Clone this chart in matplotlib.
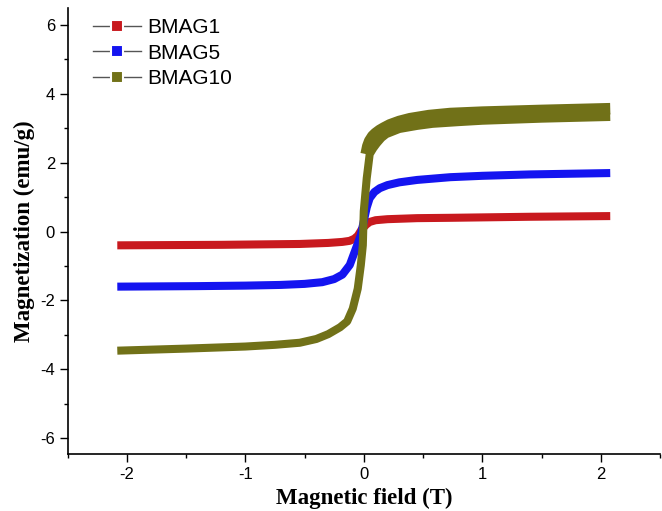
import matplotlib.pyplot as plt
from matplotlib.lines import Line2D
from matplotlib.ticker import MultipleLocator

plt.rcParams["axes.unicode_minus"] = False

RED = "#C8191E"
BLUE = "#1414F0"
OLIVE = "#717118"

# field (T) / magnetization (emu/g)
h_bmag1 = [-2.08, -1.2, -0.54, -0.3, -0.18, -0.12, -0.08, -0.05, -0.02,
           0.02, 0.05, 0.1, 0.2, 0.45, 0.73, 1.4, 2.08]
m_bmag1 = [-0.40, -0.385, -0.36, -0.33, -0.30, -0.27, -0.21, -0.12, 0.05,
           0.20, 0.28, 0.33, 0.36, 0.39, 0.40, 0.43, 0.45]

h_bmag5 = [-2.08, -1.4, -1.0, -0.7, -0.5, -0.35, -0.25, -0.18, -0.118, -0.076, -0.05,
           -0.025, 0.0, 0.025, 0.05, 0.09, 0.135, 0.2, 0.3, 0.45, 0.73, 1.0, 1.4, 2.08]
m_bmag5 = [-1.60, -1.585, -1.57, -1.55, -1.52, -1.47, -1.38, -1.25, -0.97, -0.58, -0.34,
           -0.10, 0.30, 0.70, 0.97, 1.15, 1.26, 1.35, 1.43, 1.50, 1.58, 1.62, 1.66, 1.70]

# BMAG10 ascending branch
h_bmag10_up = [-2.08, -1.5, -1.0, -0.75, -0.54, -0.4, -0.3, -0.2, -0.14, -0.093, -0.051,
               -0.025, -0.008, 0.0, 0.025, 0.05, 0.08, 0.11, 0.15, 0.19, 0.3, 0.45, 0.58,
               0.8, 1.0, 1.5, 2.08]
m_bmag10_up = [-3.46, -3.40, -3.34, -3.29, -3.23, -3.12, -2.98, -2.78, -2.61, -2.24, -1.66,
               -0.98, -0.40, 0.59, 1.55, 2.25, 2.42, 2.56, 2.72, 2.83, 2.98, 3.07, 3.13,
               3.18, 3.22, 3.28, 3.33]
# BMAG10 descending branch (positive side)
h_bmag10_dn = [2.08, 1.5, 1.0, 0.73, 0.55, 0.39, 0.3, 0.22, 0.17, 0.135, 0.1, 0.076,
               0.05, 0.034, 0.02]
m_bmag10_dn = [3.57, 3.52, 3.47, 3.43, 3.37, 3.28, 3.20, 3.10, 3.01, 2.94, 2.85, 2.77,
               2.63, 2.48, 2.25]

LW = 5.8

fig = plt.figure(figsize=(6.62, 5.11), dpi=100)
ax = fig.add_axes([0.102, 0.111, 0.895, 0.873])

ax.plot(h_bmag1, m_bmag1, color=RED, lw=LW, solid_capstyle="butt")
ax.plot(h_bmag5, m_bmag5, color=BLUE, lw=LW, solid_capstyle="butt")
ax.plot(h_bmag10_dn, m_bmag10_dn, color=OLIVE, lw=8.3, solid_capstyle="butt")
ax.plot(h_bmag10_up, m_bmag10_up, color=OLIVE, lw=LW, solid_capstyle="butt")

ax.set_xlim(-2.5, 2.5)
ax.set_ylim(-6.47, 6.49)
ax.xaxis.set_major_locator(MultipleLocator(1))
ax.xaxis.set_minor_locator(MultipleLocator(0.5))
ax.yaxis.set_major_locator(MultipleLocator(2))
ax.yaxis.set_minor_locator(MultipleLocator(1))

ax.spines["top"].set_visible(False)
ax.spines["right"].set_visible(False)
for s in ("left", "bottom"):
    ax.spines[s].set_linewidth(1.2)
ax.tick_params(which="major", direction="out", length=5.5, width=1.0,
               labelsize=12, labelfontfamily="Liberation Sans")
ax.tick_params(which="minor", direction="out", length=3, width=1.0)

lab = dict(family="Liberation Serif", fontweight="bold", fontsize=16.5)
ax.set_xlabel("Magnetic field (T)", labelpad=4, **lab)
ax.set_ylabel("Magnetization (emu/g)", labelpad=4, **lab)

handles = [
    Line2D([], [], color="#555555", lw=1, marker="s", ms=8, mfc=c, mec="white", mew=1.5)
    for c in (RED, BLUE, OLIVE)
]
ax.legend(handles, ["BMAG1", "BMAG5", "BMAG10"], loc="upper left",
          bbox_to_anchor=(0.012, 1.02), frameon=False,
          prop={"family": "Liberation Sans", "size": 15},
          handlelength=2.3, handletextpad=0.3, labelspacing=0.32)

fig.savefig("out.png", dpi=100, facecolor="white")
